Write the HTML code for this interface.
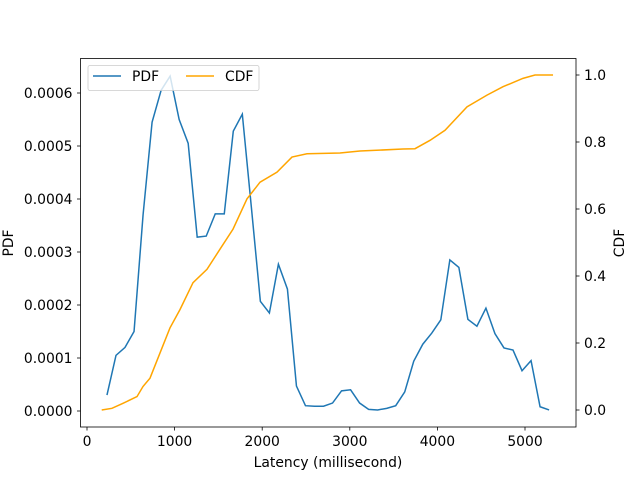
<!DOCTYPE html>
<html><head><meta charset="utf-8"><style>
body{margin:0;background:#fff;}
svg{display:block;font-family:"DejaVu Sans","Liberation Sans",sans-serif;}
</style></head><body>
<svg id="chart" width="640" height="480" viewBox="0 0 640 480" xmlns="http://www.w3.org/2000/svg">
<g id="marks"></g>
<g id="axes"></g>
</svg>
<script>
const pdfX = [228,331,434,537,640,743,846,949,1052,1155,1258,1361,1464,1567,1670,1773,1876,1979,2082,2185,2288,2391,2494,2597,2700,2803,2906,3009,3112,3215,3318,3421,3524,3627,3730,3833,3936,4039,4142,4245,4348,4451,4554,4657,4760,4863,4966,5069,5172,5275];
const pdfY = [0.000030,0.000105,0.000120,0.000150,0.000370,0.000545,0.000605,0.000632,0.000550,0.000505,0.000328,0.000330,0.000372,0.000372,0.000528,0.000560,0.000385,0.000207,0.000185,0.000277,0.000230,0.000047,0.000010,0.000009,0.000009,0.000015,0.000038,0.000040,0.000015,0.000003,0.000002,0.000005,0.000010,0.000036,0.000094,0.000126,0.000147,0.000172,0.000285,0.000271,0.000173,0.000160,0.000194,0.000146,0.000119,0.000115,0.000076,0.000095,0.000008,0.000002];
const cdfX = [168,285,411,571,639,719,833,947,1062,1210,1370,1518,1667,1826,1975,2169,2340,2511,2888,3116,3607,3744,3916,4087,4338,4566,4749,4977,5114,5320];
const cdfY = [0.0,0.005,0.02,0.04,0.07,0.095,0.17,0.245,0.30,0.38,0.42,0.48,0.54,0.63,0.68,0.71,0.755,0.765,0.767,0.773,0.779,0.78,0.805,0.835,0.905,0.94,0.965,0.99,1.0,1.0];
const xTicks = [0,1000,2000,3000,4000,5000];
const yLeftTicks = [0,0.0001,0.0002,0.0003,0.0004,0.0005,0.0006];
const yLeftLabels = ["0.0000","0.0001","0.0002","0.0003","0.0004","0.0005","0.0006"];
const yRightTicks = [0,0.2,0.4,0.6,0.8,1.0];
const yRightLabels = ["0.0","0.2","0.4","0.6","0.8","1.0"];

const L=80.5,R=576,T=58.5,B=427;
const FS=13.9;
const sx=v=>87+v*0.0876;
const syL=v=>411-v*530000;
const syR=v=>410-v*335;
const NS="http://www.w3.org/2000/svg";
const marks=document.getElementById('marks'), axes=document.getElementById('axes');
function mk(tag,attrs,parent){const e=document.createElementNS(NS,tag);for(const k in attrs)e.setAttribute(k,attrs[k]);parent.appendChild(e);return e;}

const pdfLine=mk('polyline',{points:pdfX.map((x,i)=>sx(x)+','+syL(pdfY[i])).join(' '),fill:'none',stroke:'#1f77b4','stroke-width':1.5},marks);


const cdfLine=mk('polyline',{points:cdfX.map((x,i)=>sx(x)+','+syR(cdfY[i])).join(' '),fill:'none',stroke:'#ffa500','stroke-width':1.5},marks);



const frame=mk('rect',{x:L,y:T,width:R-L,height:B-T,fill:'none',stroke:'#000','stroke-width':0.8},axes);



xTicks.forEach(v=>{const x=sx(v);
 mk('line',{x1:x,x2:x,y1:B,y2:B+3.5,stroke:'#000','stroke-width':0.8},axes);
 const t=mk('text',{x:x,y:B+19,'font-size':FS,'text-anchor':'middle'},axes);t.textContent=v;
 
 });
yLeftTicks.forEach((v,i)=>{const y=syL(v);
 mk('line',{x1:L-3.5,x2:L,y1:y,y2:y,stroke:'#000','stroke-width':0.8},axes);
 const t=mk('text',{x:L-8,y:y+5,'font-size':FS,'text-anchor':'end'},axes);t.textContent=yLeftLabels[i];
 
 });
yRightTicks.forEach((v,i)=>{const y=syR(v);
 mk('line',{x1:R,x2:R+3.5,y1:y,y2:y,stroke:'#000','stroke-width':0.8},axes);
 const t=mk('text',{x:R+8,y:y+5,'font-size':FS,'text-anchor':'start'},axes);t.textContent=yRightLabels[i];
 
 });
</script>
<svg style="position:absolute;left:0;top:0" width="640" height="480" xmlns="http://www.w3.org/2000/svg" font-family="DejaVu Sans, Liberation Sans, sans-serif">
<text x="328" y="467" font-size="13.9" text-anchor="middle">Latency (millisecond)</text>
<text x="13" y="243" font-size="13.9" text-anchor="middle" transform="rotate(-90 13 243)">PDF</text>
<text x="624" y="243" font-size="13.9" text-anchor="middle" transform="rotate(-90 624 243)">CDF</text>
<g>
<rect x="88" y="65.5" width="171" height="25" rx="2" fill="#fff" fill-opacity="0.8" stroke="#ccc" stroke-width="0.8"/>
<line x1="93" x2="121" y1="76" y2="76" stroke="#1f77b4" stroke-width="1.5"/>
<text x="132" y="81" font-size="13.9">PDF</text>
<line x1="186" x2="214" y1="76" y2="76" stroke="#ffa500" stroke-width="1.5"/>
<text x="225" y="81" font-size="13.9">CDF</text>
</g>
</svg>
</body></html>
